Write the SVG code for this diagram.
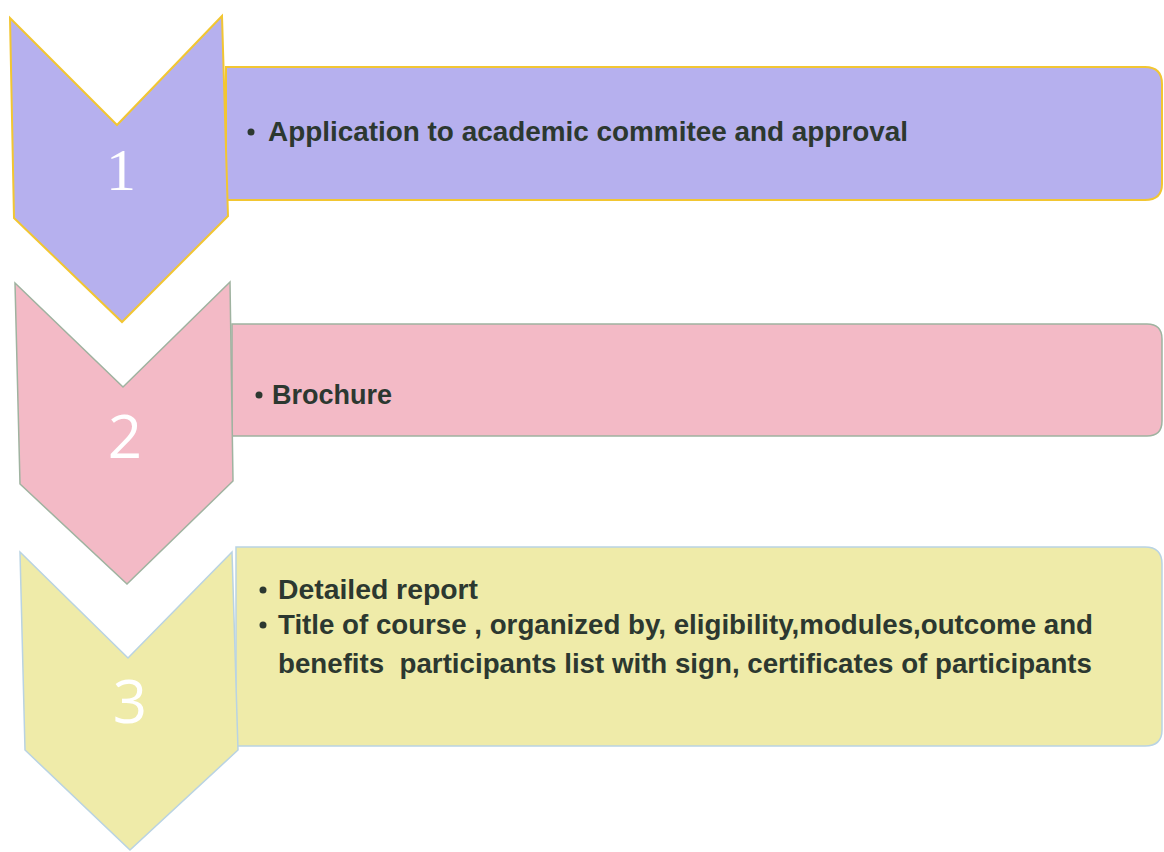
<svg xmlns="http://www.w3.org/2000/svg" width="1164" height="852" viewBox="0 0 1164 852">
<style>
.t{font-family:"Liberation Sans",Arial,sans-serif;font-weight:bold;font-size:27px;fill:#2c3830}
.num{font-family:"Open Sans","Liberation Sans",sans-serif;font-size:60px;fill:#ffffff;text-anchor:middle}
.s1{fill:#b6b0ee;stroke:#f2c632;stroke-width:2}
.s2{fill:#f3bac6;stroke:#9fb3a0;stroke-width:1.5}
.s3{fill:#efeba9;stroke:#b9d3e3;stroke-width:1.5}
</style>
<rect width="1164" height="852" fill="#ffffff"/>
<g id="step1">
<path class="s1" d="M226,67 H1145 Q1162,67 1162,84 V184 Q1162,200 1145,200 H226 Z"/>
<polygon class="s1" points="10,18 117,125 222,16 228,216 122,322 14,218"/>
<text class="num" x="121" y="190" style="font-family:'Liberation Serif',serif">1</text>
<circle cx="251" cy="132" r="3.5" fill="#2c3830"/>
<text class="t" x="268" y="141" textLength="640" lengthAdjust="spacingAndGlyphs">Application to academic commitee and approval</text>
</g>
<g id="step2">
<path class="s2" d="M232,324 H1147 Q1162,324 1162,339 V421 Q1162,436 1147,436 H232 Z"/>
<polygon class="s2" points="15,283 123,387 230,282 233,481 127,584 20,484"/>
<text class="num" x="125" y="458">2</text>
<circle cx="259" cy="395" r="3.5" fill="#2c3830"/>
<text class="t" x="272" y="404" textLength="120" lengthAdjust="spacingAndGlyphs">Brochure</text>
</g>
<g id="step3">
<path class="s3" d="M236,547 H1145 Q1162,547 1162,564 V730 Q1162,746 1145,746 H236 Z"/>
<polygon class="s3" points="20,552 128,658 232,552 238,750 130,850 25,750"/>
<text class="num" x="130" y="723">3</text>
<circle cx="263" cy="590" r="3.5" fill="#2c3830"/>
<text class="t" x="278" y="599" textLength="200" lengthAdjust="spacingAndGlyphs">Detailed report</text>
<circle cx="263" cy="625" r="3.5" fill="#2c3830"/>
<text class="t" x="278" y="634" textLength="815" lengthAdjust="spacingAndGlyphs">Title of course , organized by, eligibility,modules,outcome and</text>
<text class="t" x="278" y="673" textLength="814" lengthAdjust="spacingAndGlyphs">benefits&#160; participants list with sign, certificates of participants</text>
</g>
<g id="connectors"/>
</svg>
